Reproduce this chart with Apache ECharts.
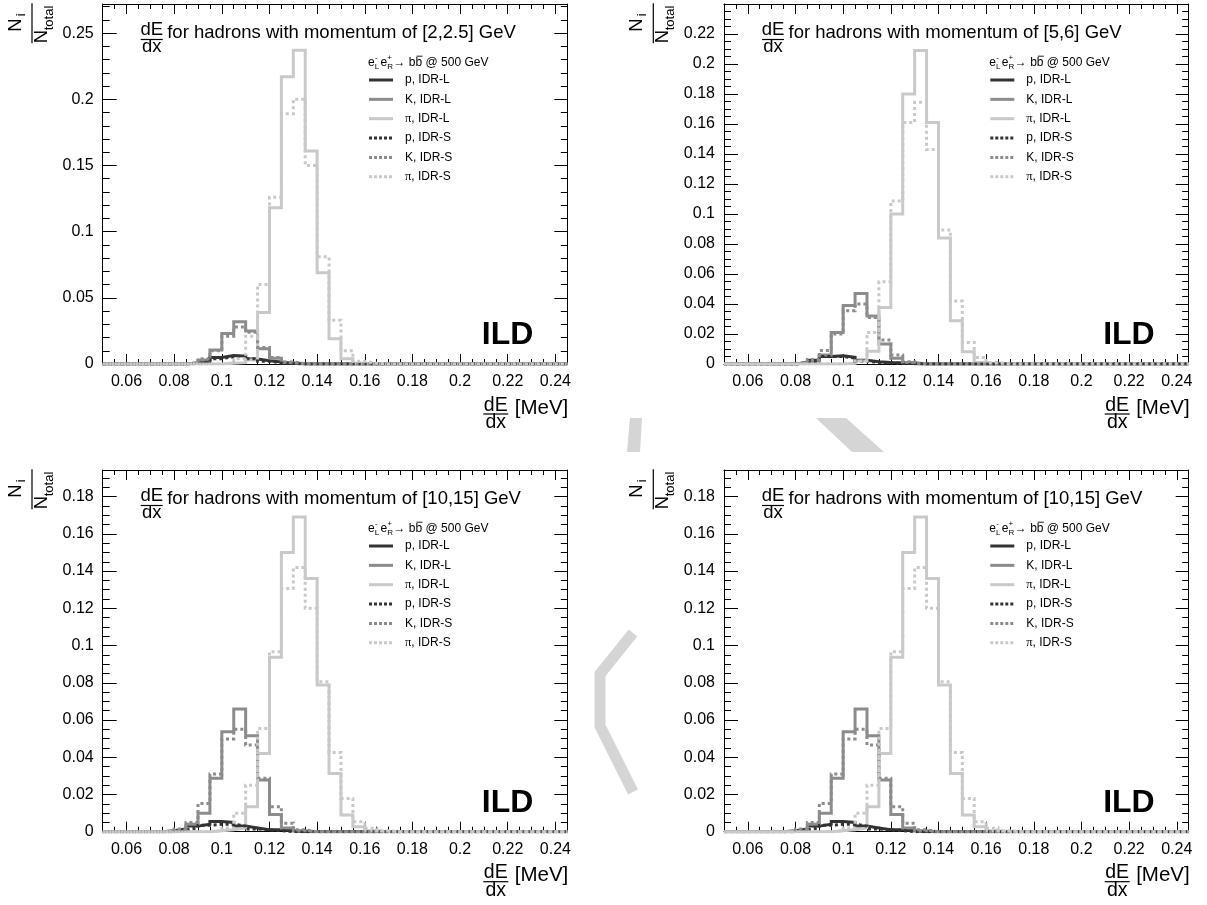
<!DOCTYPE html>
<html><head><meta charset="utf-8">
<script src="https://cdn.jsdelivr.net/npm/echarts@6/dist/echarts.min.js"></script>
<style>html,body{margin:0;padding:0;background:#fff}#c{width:1207px;height:905px}</style>
</head><body><div id="c"></div>
<script>
// ---------- data ----------
const binLeft = [0.050,0.055,0.060,0.065,0.070,0.075,0.080,0.085,0.090,0.095,0.100,0.105,0.110,0.115,0.120,0.125,0.130,0.135,0.140,0.145,0.150,0.155,0.160,0.165,0.170,0.175,0.180,0.185,0.190,0.195,0.200,0.205,0.210,0.215,0.220,0.225,0.230,0.235,0.240];
const binRightEnd = 0.245;

// panel 1 : momentum [2,2.5] GeV
const p1_pL = [0,0,0,0,0,0,0,0.0005,0.002,0.005,0.0065,0.006,0.0037,0.0024,0.0015,0.0005,0,0,0,0,0,0,0,0,0,0,0,0,0,0,0,0,0,0,0,0,0,0,0];
const p1_KL = [0,0,0,0,0,0,0,0.001,0.003,0.0105,0.023,0.032,0.025,0.0115,0.0043,0.001,0.0002,0,0,0,0,0,0,0,0,0,0,0,0,0,0,0,0,0,0,0,0,0,0];
const p1_piL = [0,0,0,0,0,0,0,0,0,0,0.0005,0.001,0.003,0.039,0.118,0.217,0.237,0.161,0.069,0.019,0.004,0.0005,0,0,0,0,0,0,0,0,0,0,0,0,0,0,0,0,0];
const p1_pS = [0,0,0,0,0,0,0,0.0005,0.0015,0.004,0.0055,0.006,0.004,0.002,0.001,0.0004,0,0,0,0,0,0,0,0,0,0,0,0,0,0,0,0,0,0,0,0,0,0,0];
const p1_KS = [0,0,0,0,0,0,0,0.001,0.004,0.010,0.021,0.028,0.024,0.0125,0.005,0.0015,0.0003,0,0,0,0,0,0,0,0,0,0,0,0,0,0,0,0,0,0,0,0,0,0];
const p1_piS = [0,0,0,0,0,0,0,0,0,0,0.001,0.004,0.021,0.060,0.126,0.189,0.200,0.150,0.081,0.033,0.010,0.002,0.0005,0,0,0,0,0,0,0,0,0,0,0,0,0,0,0,0];

// panel 2 : momentum [5,6] GeV
const p2_pL = [0,0,0,0,0,0,0.001,0.0025,0.005,0.0055,0.0045,0.0025,0.0015,0.001,0.0008,0.0003,0,0,0,0,0,0,0,0,0,0,0,0,0,0,0,0,0,0,0,0,0,0,0];
const p2_KL = [0,0,0,0,0,0,0.001,0.002,0.006,0.021,0.039,0.047,0.032,0.0133,0.0038,0.001,0,0,0,0,0,0,0,0,0,0,0,0,0,0,0,0,0,0,0,0,0,0,0];
const p2_piL = [0,0,0,0,0,0,0,0,0,0,0.0005,0.002,0.0085,0.0377,0.100,0.180,0.209,0.161,0.084,0.0288,0.0082,0.001,0,0,0,0,0,0,0,0,0,0,0,0,0,0,0,0,0];
const p2_pS = [0,0,0,0,0,0,0.0008,0.002,0.005,0.005,0.004,0.002,0.001,0.0007,0.0004,0.0002,0,0,0,0,0,0,0,0,0,0,0,0,0,0,0,0,0,0,0,0,0,0,0];
const p2_KS = [0,0,0,0,0,0,0.001,0.003,0.009,0.020,0.0355,0.040,0.031,0.016,0.006,0.0015,0,0,0,0,0,0,0,0,0,0,0,0,0,0,0,0,0,0,0,0,0,0,0];
const p2_piS = [0,0,0,0,0,0,0,0,0,0,0.0005,0.002,0.021,0.0548,0.1087,0.161,0.1745,0.143,0.0894,0.042,0.0144,0.0044,0.001,0,0,0,0,0,0,0,0,0,0,0,0,0,0,0,0];

// panels 3 and 4 : momentum [10,15] GeV
const p3_pL = [0,0,0,0,0,0.0005,0.0015,0.003,0.004,0.0055,0.005,0.003,0.002,0.001,0.001,0.0005,0,0,0,0,0,0,0,0,0,0,0,0,0,0,0,0,0,0,0,0,0,0,0];
const p3_KL = [0,0,0,0,0,0,0.001,0.004,0.0099,0.0287,0.0537,0.0659,0.0516,0.0278,0.0093,0.002,0.0005,0,0,0,0,0,0,0,0,0,0,0,0,0,0,0,0,0,0,0,0,0,0];
const p3_piL = [0,0,0,0,0,0,0,0,0,0.0005,0.001,0.002,0.0134,0.042,0.0937,0.150,0.169,0.136,0.0788,0.0313,0.009,0.0027,0.0005,0,0,0,0,0,0,0,0,0,0,0,0,0,0,0,0];
const p3_pS = [0,0,0,0,0,0,0.001,0.002,0.0035,0.004,0.004,0.003,0.0015,0.001,0.0005,0,0,0,0,0,0,0,0,0,0,0,0,0,0,0,0,0,0,0,0,0,0,0,0];
const p3_KS = [0,0,0,0,0,0,0.0015,0.005,0.0152,0.031,0.0498,0.055,0.0466,0.0287,0.0134,0.0045,0.001,0,0,0,0,0,0,0,0,0,0,0,0,0,0,0,0,0,0,0,0,0,0];
const p3_piS = [0,0,0,0,0,0,0,0,0,0.0005,0.002,0.0099,0.025,0.0555,0.0967,0.1307,0.1419,0.120,0.0806,0.0426,0.0179,0.0054,0.0018,0.0005,0,0,0,0,0,0,0,0,0,0,0,0,0,0,0];

const p4_pL = p3_pL, p4_KL = p3_KL, p4_piL = p3_piL, p4_pS = p3_pS, p4_KS = p3_KS, p4_piS = p3_piS;

// tick labels
const xMajorTicks = [0.06,0.08,0.10,0.12,0.14,0.16,0.18,0.20,0.22,0.24];
const yMajorTicks1 = [0,0.05,0.10,0.15,0.20,0.25];
const yMajorTicks2 = [0,0.02,0.04,0.06,0.08,0.10,0.12,0.14,0.16,0.18,0.20,0.22];
const yMajorTicks3 = [0,0.02,0.04,0.06,0.08,0.10,0.12,0.14,0.16,0.18];
const yMax = [0.272, 0.240, 0.1943, 0.1943];
const yMinorStep = [0.01, 0.005, 0.005, 0.005];
const momentumLabels = ['[2,2.5]', '[5,6]', '[10,15]', '[10,15]'];
const seriesNames = ['p, IDR-L','K, IDR-L','π, IDR-L','p, IDR-S','K, IDR-S','π, IDR-S'];

// ---------- layout / style ----------
const FONT = 'Liberation Sans, Arial, Helvetica, sans-serif';
const grids = [
  {left:102.7, top:4,   width:464.6, height:360},
  {left:724,   top:4,   width:464.7, height:360},
  {left:102.7, top:470, width:464.6, height:361.7},
  {left:724,   top:470, width:464.7, height:361.7}
];
const colors = ['#333333','#8c8c8c','#c9c9c9','#333333','#8c8c8c','#c9c9c9'];
const dashed = [false,false,false,true,true,true];

const panelData = [
  [p1_pL,p1_KL,p1_piL,p1_pS,p1_KS,p1_piS],
  [p2_pL,p2_KL,p2_piL,p2_pS,p2_KS,p2_piS],
  [p3_pL,p3_KL,p3_piL,p3_pS,p3_KS,p3_piS],
  [p4_pL,p4_KL,p4_piL,p4_pS,p4_KS,p4_piS]
];
const yMajors = [yMajorTicks1,yMajorTicks2,yMajorTicks3,yMajorTicks3];

const fmt = v => String(parseFloat((+v).toFixed(4)));
const xAxes = [], yAxes = [], series = [], graphics = [];

// faint background watermark pieces visible between the pads
const WM = '#d5d5d5';
graphics.push({type:'polyline', silent:true, z:0, shape:{points:[[633,633],[600,674],[600,726],[633,792]]},
  style:{stroke:WM, lineWidth:11, fill:null, lineJoin:'miter'}});
graphics.push({type:'polygon', silent:true, z:0, shape:{points:[[630,418],[642,418],[640,452],[627,452]]}, style:{fill:WM}});
graphics.push({type:'polygon', silent:true, z:0, shape:{points:[[816,418],[846,418],[884,452],[852,452]]}, style:{fill:WM}});

grids.forEach((g, k) => {
  const xBase = {type:'value', gridIndex:k, min:0.05, max:0.245, splitLine:{show:false}, axisPointer:{show:false}};
  xAxes.push(Object.assign({}, xBase, {position:'bottom',
    axisLine:{show:true, onZero:false, lineStyle:{color:'#000', width:1}},
    axisTick:{show:true, inside:true, length:10, customValues:xMajorTicks, lineStyle:{color:'#000', width:1}},
    axisLabel:{show:true, customValues:xMajorTicks, formatter:fmt, fontSize:16, fontFamily:FONT, color:'#000', margin:10}}));
  xAxes.push(Object.assign({}, xBase, {position:'bottom', interval:0.005,
    axisLine:{show:false, onZero:false}, axisTick:{show:true, inside:true, length:5, lineStyle:{color:'#000', width:1}},
    axisLabel:{show:false}}));
  xAxes.push(Object.assign({}, xBase, {position:'top',
    axisLine:{show:true, onZero:false, lineStyle:{color:'#000', width:1}},
    axisTick:{show:true, inside:true, length:10, customValues:xMajorTicks, lineStyle:{color:'#000', width:1}},
    axisLabel:{show:false}}));
  xAxes.push(Object.assign({}, xBase, {position:'top', interval:0.005,
    axisLine:{show:false, onZero:false}, axisTick:{show:true, inside:true, length:5, lineStyle:{color:'#000', width:1}},
    axisLabel:{show:false}}));

  const yBase = {type:'value', gridIndex:k, min:0, max:yMax[k], splitLine:{show:false}, axisPointer:{show:false}};
  yAxes.push(Object.assign({}, yBase, {position:'left',
    axisLine:{show:true, onZero:false, lineStyle:{color:'#000', width:1}},
    axisTick:{show:true, inside:true, length:14, customValues:yMajors[k], lineStyle:{color:'#000', width:1}},
    axisLabel:{show:true, customValues:yMajors[k], formatter:fmt, fontSize:16, fontFamily:FONT, color:'#000', margin:9}}));
  yAxes.push(Object.assign({}, yBase, {position:'left', interval:yMinorStep[k],
    axisLine:{show:false, onZero:false}, axisTick:{show:true, inside:true, length:7, lineStyle:{color:'#000', width:1}},
    axisLabel:{show:false}}));
  yAxes.push(Object.assign({}, yBase, {position:'right',
    axisLine:{show:true, onZero:false, lineStyle:{color:'#000', width:1}},
    axisTick:{show:true, inside:true, length:13, customValues:yMajors[k], lineStyle:{color:'#000', width:1}},
    axisLabel:{show:false}}));
  yAxes.push(Object.assign({}, yBase, {position:'right', interval:yMinorStep[k],
    axisLine:{show:false, onZero:false}, axisTick:{show:true, inside:true, length:6.5, lineStyle:{color:'#000', width:1}},
    axisLabel:{show:false}}));

  panelData[k].forEach((vals, s) => {
    const pts = binLeft.map((x, i) => [x, vals[i]]);
    pts.push([binRightEnd, vals[vals.length - 1]]);
    series.push({type:'line', name:seriesNames[s], xAxisIndex:4*k, yAxisIndex:4*k, data:pts,
      step:'end', showSymbol:false, symbol:'none', silent:true, animation:false, clip:true,
      lineStyle:{color:colors[s], width:3, type: dashed[s] ? [3,3] : 'solid', cap:'butt', join:'miter'},
      z: 2 + s});
  });

  // ----- graphics: texts -----
  const gx = g.left, gy = g.top, gr = g.left + g.width, gb = g.top + g.height;
  const T = (text, x, y, size, opt) => Object.assign({type:'text', x:x, y:y, silent:true, z:100,
    style:Object.assign({text:text, fill:'#000', fontSize:size, fontFamily:FONT,
      align:'left', textAlign:'left', verticalAlign:'middle', textVerticalAlign:'middle'}, (opt||{}))});
  const L = (x1, y1, x2, y2, w, color, dash) => ({type:'line', silent:true, z:100,
    shape:{x1:x1, y1:y1, x2:x2, y2:y2}, style:{stroke:color||'#000', lineWidth:w||1, lineDash:dash||null}});

  // title dE/dx fraction
  graphics.push(T('dE', gx+49, gy+26.2, 18.5, {align:'center', textAlign:'center'}));
  graphics.push(L(gx+38, gy+35.5, gx+60, gy+35.5, 1.2));
  graphics.push(T('dx', gx+49, gy+42.5, 18.5, {align:'center', textAlign:'center'}));
  graphics.push(T('for hadrons with momentum of ' + momentumLabels[k] + ' GeV', gx+64.5, gy+28.5, 18.5));

  // legend header  e-_L e+_R -> b bbar @ 500 GeV
  const hx = gx + 265.3, hy = gy + 58.5;
  graphics.push(T('e', hx, hy, 12));
  graphics.push(T('-', hx+7, hy-4.5, 8));
  graphics.push(T('L', hx+6.8, hy+4, 8));
  graphics.push(T('e', hx+12.5, hy, 12));
  graphics.push(T('+', hx+19.3, hy-4.5, 8));
  graphics.push(T('R', hx+19.3, hy+4, 8));
  graphics.push(T('\u2192 bb @ 500 GeV', hx+25.5, hy, 12));
  graphics.push(L(hx+48.5, hy-6.3, hx+54.5, hy-6.3, 0.9));
  // legend entries
  for (let j = 0; j < 6; j++) {
    const ly = gy + 76 + 19.35 * j;
    graphics.push(L(gx+266.3, ly, gx+290.3, ly, 3, colors[j], dashed[j] ? [3,2] : null));
    const parts = seriesNames[j].split(',');
    if (parts[0] === 'π') {
      graphics.push({type:'text', x:gx+302.3, y:ly, silent:true, z:100,
        style:{text:'{g|π}{n|,' + parts[1] + '}', fontSize:12, fontFamily:FONT, fill:'#000',
          align:'left', textAlign:'left', verticalAlign:'middle', textVerticalAlign:'middle',
          rich:{g:{fontFamily:'Liberation Serif, DejaVu Serif, serif', fontSize:12.5, fill:'#000'}, n:{fontFamily:FONT, fontSize:12, fill:'#000'}}}});
    } else {
      graphics.push(T(seriesNames[j], gx+302.3, ly, 12));
    }
  }

  // ILD
  graphics.push(T('ILD', gr-34, gb-28.5, 32, {align:'right', textAlign:'right', fontWeight:'bold'}));

  // x-axis title: dE/dx [MeV]
  graphics.push(T('dE', gr-71.5, gb+41.2, 19.5, {align:'center', textAlign:'center'}));
  graphics.push(L(gr-84, gb+50, gr-59, gb+50, 1.2));
  graphics.push(T('dx', gr-71.5, gb+59, 19.5, {align:'center', textAlign:'center'}));
  graphics.push(T('[MeV]', gr+1, gb+44, 20.5, {align:'right', textAlign:'right'}));

  // y-axis title: N_i / N_total (rotated)
  graphics.push({type:'group', x:gx-70.7, y:gy+19.3, rotation:Math.PI/2, silent:true, z:100, children:[
    {type:'line', shape:{x1:-20, y1:0, x2:20, y2:0}, style:{stroke:'#000', lineWidth:1.2}},
    {type:'text', x:-8.4, y:-9.6-6.5, style:{text:'N', fontSize:18.5, fontFamily:FONT, fill:'#000', align:'left', textAlign:'left', verticalAlign:'middle', textVerticalAlign:'middle'}},
    {type:'text', x:7, y:-6-4.5, style:{text:'i', fontSize:13, fontFamily:FONT, fill:'#000', align:'left', textAlign:'left', verticalAlign:'middle', textVerticalAlign:'middle'}},
    {type:'text', x:-20, y:16-6.5, style:{text:'N', fontSize:18.5, fontFamily:FONT, fill:'#000', align:'left', textAlign:'left', verticalAlign:'middle', textVerticalAlign:'middle'}},
    {type:'text', x:-7, y:22-4.5, style:{text:'total', fontSize:13, fontFamily:FONT, fill:'#000', align:'left', textAlign:'left', verticalAlign:'middle', textVerticalAlign:'middle'}}
  ]});
});

const chart = echarts.init(document.getElementById('c'), null, {renderer:'canvas'});
chart.setOption({
  animation:false,
  backgroundColor:'#ffffff',
  grid: grids.map(g => Object.assign({containLabel:false}, g)),
  xAxis: xAxes,
  yAxis: yAxes,
  series: series,
  graphic: graphics
});
</script>
</body></html>
